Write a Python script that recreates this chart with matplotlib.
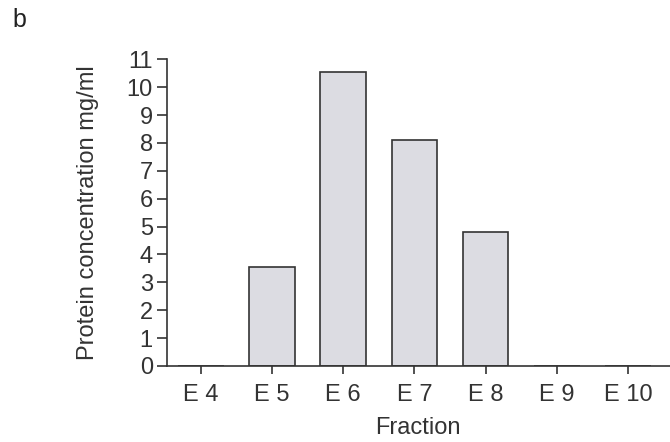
import matplotlib
matplotlib.use("Agg")

import matplotlib.pyplot as plt

# =========================
# DATA
# =========================

fractions = ["E 4", "E 5", "E 6", "E 7", "E 8", "E 9", "E 10"]
concentration = [0, 3.55, 10.55, 8.1, 4.8, 0, 0]
y_ticks = list(range(0, 12))

# =========================
# PLOT
# =========================

plt.rcParams["font.family"] = ["Liberation Sans", "DejaVu Sans"]

fig = plt.figure(figsize=(6.7, 4.42), dpi=100)
ax = fig.add_axes([0.2488, 0.172, 0.7512, 0.694])

x = list(range(len(fractions)))
ax.bar(x, concentration, width=0.64, color="#dcdce2",
       edgecolor="#333333", linewidth=1.2, zorder=2)

ax.set_xlim(-0.48, 6.59)
ax.set_ylim(0, 11)
ax.set_xticks(x)
ax.set_xticklabels(fractions)
ax.set_yticks(y_ticks)

for side in ["top", "right"]:
    ax.spines[side].set_visible(False)
for side in ["left", "bottom"]:
    ax.spines[side].set_color("#333333")
    ax.spines[side].set_linewidth(1.2)
    ax.spines[side].set_zorder(3)

ax.tick_params(axis="y", length=7, width=1.2, color="#333333",
               labelsize=17, labelcolor="#333333", pad=3)
ax.tick_params(axis="x", length=6, width=1.2, color="#333333",
               labelsize=17, labelcolor="#333333", pad=7)

ax.set_xlabel("Fraction", fontsize=17, color="#333333", labelpad=8)
ax.set_ylabel("Protein concentration mg/ml", fontsize=17, color="#333333",
              labelpad=20)

fig.text(0.018, 0.955, "b", fontsize=18, color="#222222", va="center")

plt.savefig("out.png")
plt.close()
